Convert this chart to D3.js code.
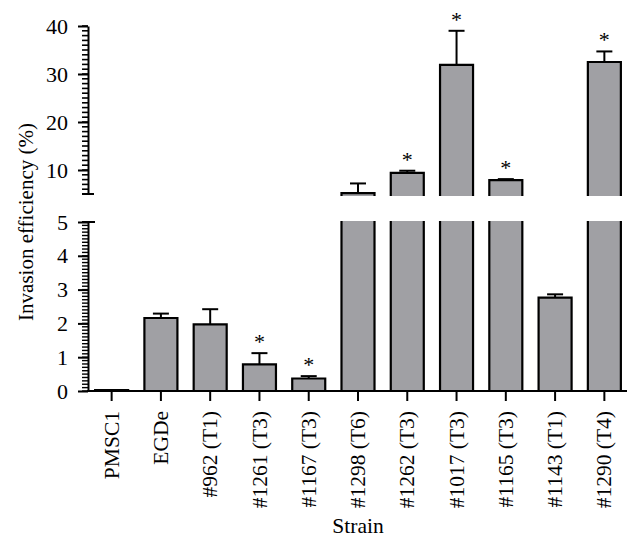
<!DOCTYPE html>
<html>
<head>
<meta charset="utf-8">
<script src="https://cdn.jsdelivr.net/npm/d3@7"></script>
<style>
  html, body { margin: 0; padding: 0; background: #fff; }
  svg { display: block; }
  text { font-family: "Liberation Serif", "Times New Roman", serif; fill: #000; }
</style>
</head>
<body>
<svg id="chart" width="641" height="547"></svg>
<script>
// ---- data ----
const categories = ["PMSC1", "EGDe", "#962 (T1)", "#1261 (T3)", "#1167 (T3)", "#1298 (T6)",
                    "#1262 (T3)", "#1017 (T3)", "#1165 (T3)", "#1143 (T1)", "#1290 (T4)"];
const means  = [0.03, 2.16, 1.97, 0.79, 0.37, 5.2, 9.4, 31.9, 7.9, 2.76, 32.5];
const errors = [0, 0.13, 0.45, 0.33, 0.07, 2.0, 0.45, 7.1, 0.2, 0.1, 2.2];
const significant = [false, false, false, true, true, false, true, true, true, false, true];
const topTicks = [10, 20, 30, 40];
const bottomTicks = [0, 1, 2, 3, 4, 5];
const topMinorTicks = d3.range(5, 41, 1);
const bottomMinorTicks = d3.range(0, 50, 1).map(d => d / 10);
const breakValue = 5;

const svg = d3.select("#chart");
const barFill = "#a0a0a4";

// ---- scales ----
const x = d3.scaleBand().domain(categories).range([87, 629])
  .paddingInner(0.33).paddingOuter(0.165);
const yTop = d3.scaleLinear().domain([breakValue, 40]).range([194, 26]);
const yBot = d3.scaleLinear().domain([0, breakValue]).range([391, 222]);

const axisX = 88;

// ---- bars ----
const bw = x.bandwidth();
const g = svg.append("g");
categories.forEach((c, i) => {
  const v = means[i];
  const x0 = x(c), x1 = x(c) + bw;
  const base = yBot(0);
  const lowTop = v > breakValue ? yBot(breakValue) - 1 : yBot(v);
  g.append("rect").attr("x", x0).attr("y", lowTop).attr("width", bw)
    .attr("height", Math.max(0, base - lowTop)).attr("fill", barFill);
  const lowPath = v > breakValue
    ? `M${x0},${base}V${lowTop}M${x1},${lowTop}V${base}`
    : `M${x0},${base}V${lowTop}H${x1}V${base}`;
  g.append("path").attr("d", lowPath).attr("fill", "none")
    .attr("stroke", "#000").attr("stroke-width", 2.2);
  if (v > breakValue) {
    const upBottom = yTop(breakValue) + 2;
    const upTop = yTop(v);
    g.append("rect").attr("x", x0).attr("y", upTop).attr("width", bw)
      .attr("height", upBottom - upTop).attr("fill", barFill);
    g.append("path").attr("d", `M${x0},${upBottom}V${upTop}H${x1}V${upBottom}`)
      .attr("fill", "none").attr("stroke", "#000").attr("stroke-width", 2.2);
  }
  const scale = v > breakValue ? yTop : yBot;
  const cx = x0 + bw / 2;
  let errTop = scale(v);
  if (errors[i] > 0) {
    errTop = scale(v + errors[i]);
    g.append("line").attr("x1", cx).attr("x2", cx).attr("y1", scale(v)).attr("y2", errTop)
      .attr("stroke", "#000").attr("stroke-width", 2);
    g.append("line").attr("x1", cx - 8).attr("x2", cx + 8).attr("y1", errTop).attr("y2", errTop)
      .attr("stroke", "#000").attr("stroke-width", 2);
  }
  if (significant[i]) {
    g.append("text").attr("x", cx).attr("y", errTop - 4)
      .attr("text-anchor", "middle").attr("font-size", 22).text("*");
  }
});

// ---- y axes ----
function styleAxis(sel) {
  sel.selectAll("path.domain").attr("stroke", "#000").attr("stroke-width", 2);
  sel.selectAll(".tick line").attr("stroke", "#000").attr("stroke-width", 2);
  sel.selectAll("text").attr("font-size", 22);
}
svg.append("g").attr("transform", `translate(${axisX},0)`)
  .call(d3.axisLeft(yTop).tickValues(topTicks).tickSize(10).tickSizeOuter(0).tickPadding(10).tickFormat(d3.format("d")))
  .call(styleAxis);
svg.append("g").attr("transform", `translate(${axisX},0)`)
  .call(d3.axisLeft(yBot).tickValues(bottomTicks).tickSize(10).tickSizeOuter(0).tickPadding(10).tickFormat(d3.format("d")))
  .call(styleAxis);
// minor ticks drawn from the scales (on top)
svg.append("g").attr("class", "minor").selectAll("line").data(topMinorTicks).join("line")
  .attr("x1", axisX - 6).attr("x2", axisX)
  .attr("y1", d => yTop(d)).attr("y2", d => yTop(d))
  .attr("stroke", "#000").attr("stroke-width", 1.6);
svg.append("g").attr("class", "minor").selectAll("line").data(bottomMinorTicks).join("line")
  .attr("x1", axisX - 6).attr("x2", axisX)
  .attr("y1", d => yBot(d)).attr("y2", d => yBot(d))
  .attr("stroke", "#000").attr("stroke-width", 1.4);
// break caps
svg.append("line").attr("x1", axisX - 6).attr("x2", axisX + 6)
  .attr("y1", yTop(breakValue)).attr("y2", yTop(breakValue)).attr("stroke", "#000").attr("stroke-width", 2);
svg.append("line").attr("x1", axisX - 6).attr("x2", axisX + 7)
  .attr("y1", yBot(breakValue)).attr("y2", yBot(breakValue)).attr("stroke", "#000").attr("stroke-width", 2);

// ---- x axis ----
const xAxisG = svg.append("g").attr("transform", `translate(0,${yBot(0)})`)
  .call(d3.axisBottom(x).tickSize(10).tickSizeOuter(0).tickFormat(() => ""));
xAxisG.select(".domain").attr("stroke", "#000").attr("stroke-width", 2)
  .attr("d", `M${axisX - 1},0H627`);
xAxisG.selectAll(".tick line").attr("stroke", "#000").attr("stroke-width", 2);
xAxisG.selectAll(".tick").append("text")
  .attr("transform", "translate(0,20) rotate(-90)")
  .attr("text-anchor", "end").attr("dy", "0.33em")
  .attr("font-size", 21.5).attr("fill", "#000")
  .text(d => d);

// ---- axis titles ----
svg.append("text").attr("transform", "translate(33,222) rotate(-90)")
  .attr("text-anchor", "middle").attr("font-size", 21)
  .text("Invasion efficiency (%)");
svg.append("text").attr("x", 358).attr("y", 533)
  .attr("text-anchor", "middle").attr("font-size", 21.5).text("Strain");
</script>
</body>
</html>
